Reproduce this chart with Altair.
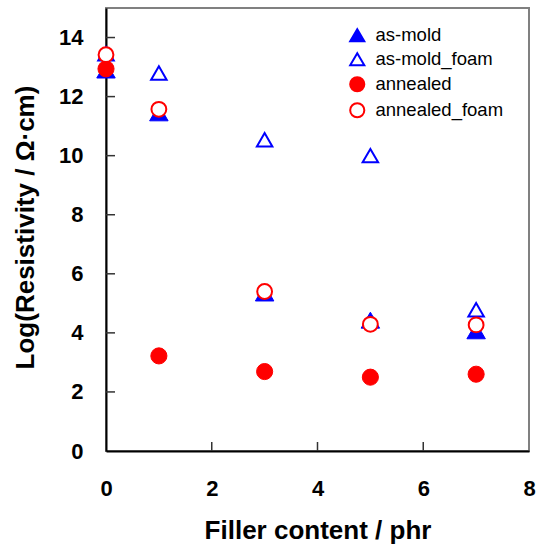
import altair as alt
import pandas as pd

filler = [0, 1, 3, 5, 7]
as_mold = [12.9, 11.45, 5.35, 4.43, 4.07]
as_mold_foam = [13.45, 12.8, 10.54, 10.0, 4.78]
annealed = [12.94, 3.22, 2.69, 2.5, 2.6]
annealed_foam = [13.42, 11.57, 5.4, 4.29, 4.27]

series_names = ["as-mold", "as-mold_foam", "annealed", "annealed_foam"]
series_values = [as_mold, as_mold_foam, annealed, annealed_foam]

y_ticks = [2, 4, 6, 8, 10, 12, 14]
x_ticks = [2, 4, 6]

rows = []
for name, vals in zip(series_names, series_values):
    for x, v in zip(filler, vals):
        rows.append({"filler": x, "value": v, "series": name})
df = pd.DataFrame(rows)

FONT = "Liberation Sans"
W, H = 423, 443

xscale = alt.Scale(domain=[0, 8], nice=False, zero=False)
yscale = alt.Scale(domain=[0, 15], nice=False, zero=False)

xaxis = alt.Axis(title="Filler content / phr", values=[0, 2, 4, 6, 8],
                 ticks=False, tickSize=0, grid=False, labelFlush=False,
                 domainColor="black", domainWidth=2,
                 labelFont=FONT, labelFontSize=22, labelFontWeight="bold",
                 labelColor="black", labelPadding=27,
                 titleFont=FONT, titleFontSize=26, titleFontWeight="bold",
                 titleColor="black", titleBaseline="alphabetic",
                 titleY=87, titleX=W / 2, titleAlign="center")
yaxis = alt.Axis(title="Log(Resistivity / Ω·cm)", values=[0, 2, 4, 6, 8, 10, 12, 14],
                 ticks=False, tickSize=0, grid=False, labelFlush=False,
                 domainColor="black", domainWidth=2,
                 labelFont=FONT, labelFontSize=22, labelFontWeight="bold",
                 labelColor="black", labelPadding=23,
                 titleFont=FONT, titleFontSize=26, titleFontWeight="bold",
                 titleColor="black", titleAngle=270, titleBaseline="alphabetic",
                 titleAlign="center", titleX=-73, titleY=219)

legend = alt.Legend(title=None, orient="none", legendX=242, legendY=18,
                    labelFont=FONT, labelFontSize=18.5, labelColor="black",
                    symbolSize=200, symbolStrokeWidth=2, rowPadding=3,
                    labelOffset=9, padding=0)

shape_scale = alt.Scale(domain=series_names,
                        range=["triangle-up", "triangle-up", "circle", "circle"])
fill_scale = alt.Scale(domain=series_names,
                       range=["#0000FF", "#FFFFFF", "#FF0000", "#FFFFFF"])
stroke_scale = alt.Scale(domain=series_names,
                         range=["#0000FF", "#0000FF", "#FF0000", "#FF0000"])

sizes = [340, 240, 260, 220]
widths = [1, 2, 1, 2]

layers = []
for name, sz, sw in zip(series_names, sizes, widths):
    layers.append(
        alt.Chart(df).transform_filter(alt.datum.series == name)
        .mark_point(filled=False, opacity=1, clip=False, size=sz, strokeWidth=sw)
        .encode(
            x=alt.X("filler:Q", scale=xscale, axis=xaxis),
            y=alt.Y("value:Q", scale=yscale, axis=yaxis),
            shape=alt.Shape("series:N", scale=shape_scale, legend=legend),
            fill=alt.Fill("series:N", scale=fill_scale, legend=legend),
            stroke=alt.Stroke("series:N", scale=stroke_scale, legend=legend),
        )
    )

ydf = pd.DataFrame({"v": y_ticks})
xdf = pd.DataFrame({"v": x_ticks})

yt = alt.Chart(ydf).mark_rule(color="#333333", strokeWidth=1.5).encode(
    y=alt.Y("v:Q", scale=yscale, axis=yaxis),
    x=alt.value(0), x2=alt.value(9),
)
xt = alt.Chart(xdf).mark_rule(color="#333333", strokeWidth=1.5).encode(
    x=alt.X("v:Q", scale=xscale, axis=xaxis),
    y=alt.value(H), y2=alt.value(H - 9),
)

chart = alt.layer(yt, xt, *layers).properties(
    width=W, height=H,
    autosize=alt.AutoSizeParams(type="none"),
    padding={"left": 106, "top": 8, "right": 12, "bottom": 95},
    background="white",
).configure_view(stroke="#808080", strokeWidth=2)

chart.save("out.html", embed_options={"renderer": "svg", "actions": False})
